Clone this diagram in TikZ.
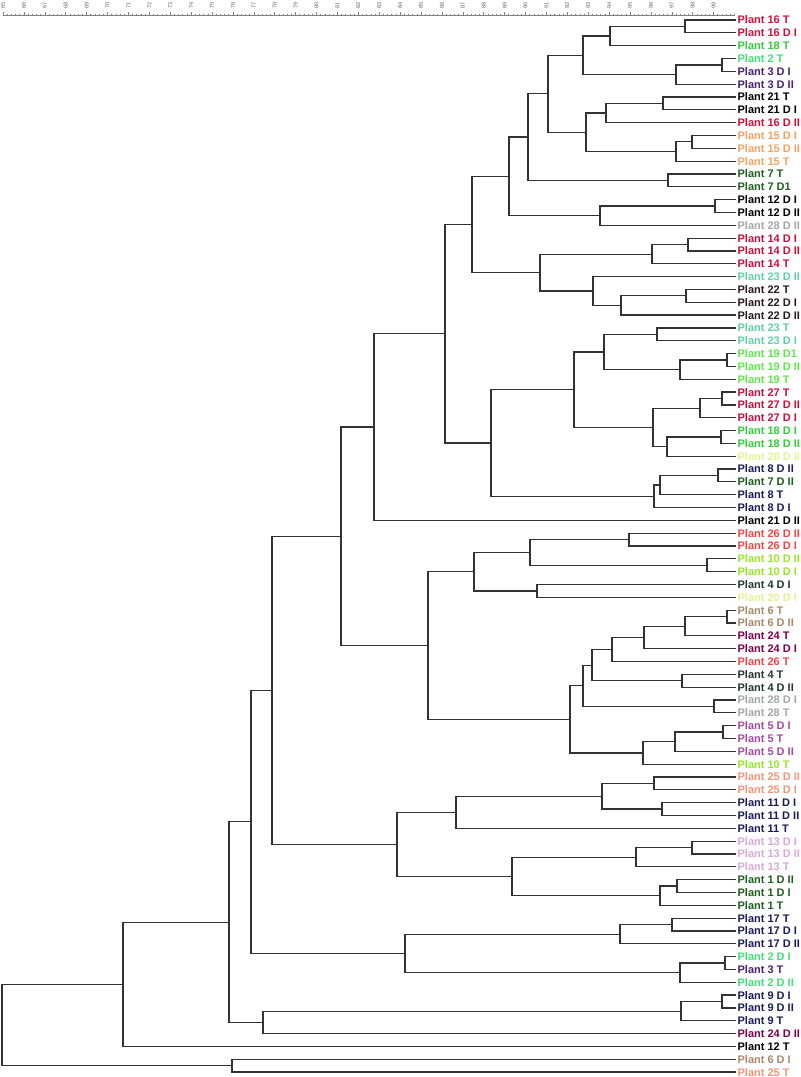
\documentclass[tikz,border=0pt]{standalone}
\usepackage{fontspec}
\setmainfont{Liberation Sans}
\usetikzlibrary{calc}

\definecolor{linegray}{HTML}{333333}
\definecolor{pred}{HTML}{D0103A}
\definecolor{pcrimson}{HTML}{C8103C}
\definecolor{ptomato}{HTML}{EE4646}
\definecolor{pgreen}{HTML}{33CC3A}
\definecolor{plgreen}{HTML}{44DD77}
\definecolor{plime}{HTML}{5EE84A}
\definecolor{pchart}{HTML}{9AE62A}
\definecolor{pyellow}{HTML}{E4F290}
\definecolor{pdgreen}{HTML}{1E5E1E}
\definecolor{ppurple}{HTML}{4B2070}
\definecolor{porange}{HTML}{F4A460}
\definecolor{pgray}{HTML}{A0A8A8}
\definecolor{paqua}{HTML}{60D0A8}
\definecolor{pbrown}{HTML}{2A1A1A}
\definecolor{pnavy}{HTML}{1A1C58}
\definecolor{pslate}{HTML}{253535}
\definecolor{ptan}{HTML}{A8896B}
\definecolor{pplum}{HTML}{800050}
\definecolor{porchid}{HTML}{A64CA0}
\definecolor{psalmon}{HTML}{F49478}
\definecolor{ppink}{HTML}{D8A8D8}

\tikzset{
  branch/.style={draw=linegray, line width=0.6pt},
  leaf/.style={anchor=west, inner sep=0.6pt, font=\bfseries\fontsize{5.5}{6}\selectfont},
  scaletick/.style={draw=gray, line width=0.3pt},
  scalenum/.style={text=black!60, rotate=90, inner sep=0pt, font=\fontsize{2.8}{2.8}\selectfont}
}

\begin{document}
\begin{tikzpicture}[x=0.5pt, y=-0.5pt]
  \useasboundingbox (0,0) rectangle (801,1077);
  % similarity scale
  \draw[scaletick] (3,15) -- (735,15);
  \foreach \k in {0,1,...,175} {
      \draw[scaletick] (3+\k*4.18,15) -- ++(0,-1.5);
  }
  \foreach \v in {65,66,...,99} {
      \draw[scaletick] (3+\v*20.9-65*20.9,15) -- ++(0,-3);
      \node[scalenum] (v\v) at (3+\v*20.9-65*20.9,5) {\v};
  }
  % leaves
  \foreach \lab/\col [count=\i] in {
      Plant 16 T/pred, Plant 16 D I/pred, Plant 18 T/pgreen, Plant 2 T/plgreen,
      Plant 3 D I/ppurple, Plant 3 D II/ppurple, Plant 21 T/black, Plant 21 D I/black,
      Plant 16 D II/pred, Plant 15 D I/porange, Plant 15 D II/porange, Plant 15 T/porange,
      Plant 7 T/pdgreen, Plant 7 D1/pdgreen, Plant 12 D I/black, Plant 12 D II/black,
      Plant 28 D II/pgray, Plant 14 D I/pcrimson, Plant 14 D II/pcrimson, Plant 14 T/pcrimson,
      Plant 23 D II/paqua, Plant 22 T/pbrown, Plant 22 D I/pbrown, Plant 22 D II/pbrown,
      Plant 23 T/paqua, Plant 23 D I/paqua, Plant 19 D1/plime, Plant 19 D II/plime,
      Plant 19 T/plime, Plant 27 T/pcrimson, Plant 27 D II/pcrimson, Plant 27 D I/pcrimson,
      Plant 18 D I/pgreen, Plant 18 D II/pgreen, Plant 20 D II/pyellow, Plant 8 D II/pnavy,
      Plant 7 D II/pdgreen, Plant 8 T/pnavy, Plant 8 D I/pnavy, Plant 21 D II/black,
      Plant 26 D II/ptomato, Plant 26 D I/ptomato, Plant 10 D II/pchart, Plant 10 D I/pchart,
      Plant 4 D I/pslate, Plant 20 D I/pyellow, Plant 6 T/ptan, Plant 6 D II/ptan,
      Plant 24 T/pplum, Plant 24 D I/pplum, Plant 26 T/ptomato, Plant 4 T/pslate,
      Plant 4 D II/pslate, Plant 28 D I/pgray, Plant 28 T/pgray, Plant 5 D I/porchid,
      Plant 5 T/porchid, Plant 5 D II/porchid, Plant 10 T/pchart, Plant 25 D II/psalmon,
      Plant 25 D I/psalmon, Plant 11 D I/pnavy, Plant 11 D II/pnavy, Plant 11 T/pnavy,
      Plant 13 D I/ppink, Plant 13 D II/ppink, Plant 13 T/ppink, Plant 1 D II/pdgreen,
      Plant 1 D I/pdgreen, Plant 1 T/pdgreen, Plant 17 T/pnavy, Plant 17 D I/pnavy,
      Plant 17 D II/pnavy, Plant 2 D I/plgreen, Plant 3 T/ppurple, Plant 2 D II/plgreen,
      Plant 9 D I/pnavy, Plant 9 D II/pnavy, Plant 9 T/pnavy, Plant 24 D II/pplum,
      Plant 12 T/black, Plant 6 D I/ptan, Plant 25 T/psalmon} {
      \coordinate (l\i) at (736,{20+12.83*(\i-1)});
      \node[leaf, text=\col] (t\i) at (l\i) {\lab};
  }
  % clusters: name / level / first child / second child
  \foreach \nd/\x/\a/\b in {
      n1/685/l1/l2, n2/610/n1/l3, n3/722/l4/l5, n4/676/n3/l6, n5/583/n2/n4,
      n6/663/l7/l8, n7/606/n6/l9, n8/692/l10/l11, n9/676/n8/l12, n10/586/n7/n9,
      n11/548/n5/n10, n12/668/l13/l14, n13/528/n11/n12, n14/715/l15/l16,
      n15/600/n14/l17, n16/509/n13/n15, n17/688/l18/l19, n18/652/n17/l20,
      n19/686/l22/l23, n20/621/n19/l24, n21/593/l21/n20, n22/540/n18/n21,
      n23/472/n16/n22, n24/657/l25/l26, n25/727/l27/l28, n26/680/n25/l29,
      n27/604/n24/n26, n28/722/l30/l31, n29/700/n28/l32, n30/721/l33/l34,
      n31/667/n30/l35, n32/653/n29/n31, n33/574/n27/n32, n34/718/l36/l37,
      n35/660/n34/l38, n36/654/n35/l39, n37/491/n33/n36, n38/445/n23/n37,
      n39/374/n38/l40, n40/629/l41/l42, n41/707/l43/l44, n42/530/n40/n41,
      n43/537/l45/l46, n44/474/n42/n43, n45/727/l47/l48, n46/685/n45/l49,
      n47/644/n46/l50, n48/612/n47/l51, n49/682/l52/l53, n50/714/l54/l55,
      n51/592/n48/n49, n52/583/n51/n50, n53/723/l56/l57, n54/675/n53/l58,
      n55/643/n54/l59, n56/570/n52/n55, n57/428/n44/n56, n58/341/n39/n57,
      n59/654/l60/l61, n60/662/l62/l63, n61/602/n59/n60, n62/456/n61/l64,
      n63/692/l65/l66, n64/636/n63/l67, n65/677/l68/l69, n66/660/n65/l70,
      n67/512/n64/n66, n68/397/n62/n67, n69/272/n58/n68, n70/672/l71/l72,
      n71/620/n70/l73, n72/725/l74/l75, n73/680/n72/l76, n74/405/n71/n73,
      n75/251/n69/n74, n76/722/l77/l78, n77/681/n76/l79, n78/263/n77/l80,
      n79/229/n75/n78, n80/123/n79/l81, n81/232/l82/l83, n82/2/n80/n81} {
      \coordinate (m\nd) at ($(\a)!0.5!(\b)$);
      \coordinate (\nd) at (\x,0 |- m\nd);
      \draw[branch] (\a) -| (\nd) |- (\b);
  }
\end{tikzpicture}
\end{document}
